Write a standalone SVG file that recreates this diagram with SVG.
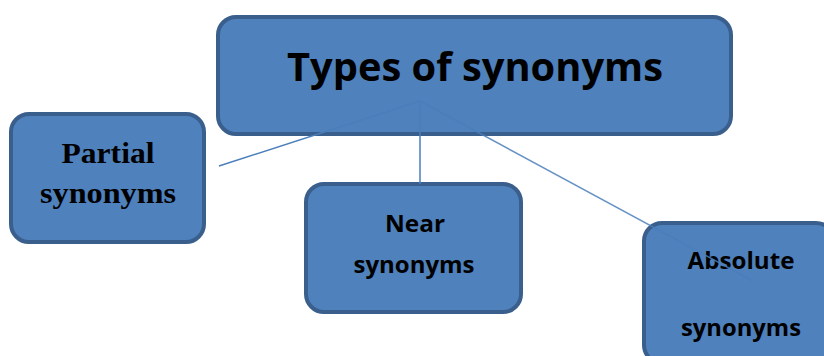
<svg xmlns="http://www.w3.org/2000/svg" width="824" height="356" viewBox="0 0 824 356">
  <style>
    .box { fill: #4F81BD; stroke: #3B5F8C; stroke-width: 4; }
    .link { stroke: #4A7EBB; stroke-width: 1.5; fill: none; }
    .sans { font-family: "Open Sans", "Liberation Sans", sans-serif; font-weight: bold; fill: #000; text-anchor: middle; }
    .serif { font-family: "Liberation Serif", serif; font-weight: bold; fill: #000; text-anchor: middle; }
  </style>
  <rect width="824" height="356" fill="#FFFFFF"/>

  <g id="node-types">
    <rect class="box" x="218" y="17" width="513" height="117" rx="18"/>
    <text class="sans" x="475" y="81" font-size="40" textLength="376" lengthAdjust="spacingAndGlyphs">Types of synonyms</text>
  </g>

  <g id="node-partial">
    <rect class="box" x="11" y="114" width="193" height="128" rx="18"/>
    <text class="serif" x="108" y="163" font-size="30" textLength="93" lengthAdjust="spacingAndGlyphs">Partial</text>
    <text class="serif" x="108" y="203" font-size="30" textLength="136" lengthAdjust="spacingAndGlyphs">synonyms</text>
  </g>

  <g id="node-near">
    <rect class="box" x="306" y="184" width="215" height="128" rx="18"/>
    <text class="sans" x="415" y="232" font-size="24" textLength="60" lengthAdjust="spacingAndGlyphs">Near</text>
    <text class="sans" x="414" y="273" font-size="24" textLength="121" lengthAdjust="spacingAndGlyphs">synonyms</text>
  </g>

  <g id="node-absolute">
    <rect class="box" x="644" y="223" width="190" height="140" rx="18"/>
    <text class="sans" x="741" y="269" font-size="23" textLength="107" lengthAdjust="spacingAndGlyphs">Absolute</text>
    <text class="sans" x="741" y="336" font-size="23" textLength="120" lengthAdjust="spacingAndGlyphs">synonyms</text>
  </g>

  <g id="connectors">
    <line class="link" x1="420" y1="101" x2="219" y2="166"/>
    <line class="link" x1="420" y1="101" x2="420" y2="184"/>
    <line class="link" x1="420" y1="101" x2="753" y2="281" stroke-opacity="0.85"/>
  </g>
</svg>
